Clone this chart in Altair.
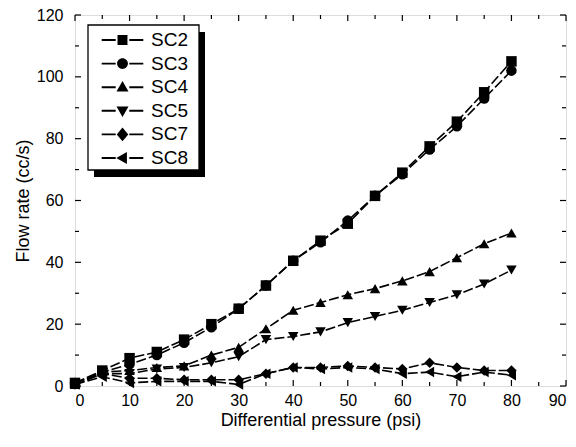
import altair as alt
import pandas as pd

pressure = [0, 5, 10, 15, 20, 25, 30, 35, 40, 45, 50, 55, 60, 65, 70, 75, 80]
sc2 = [1, 5, 9, 11, 15, 20, 25, 32.5, 40.5, 47, 52.5, 61.5, 69, 77.5, 85.5, 95, 105]
sc3 = [1, 4.5, 7, 10, 14, 19, 25, 32.5, 40.5, 46.5, 53.5, 61.5, 68.5, 76.5, 84, 93, 102]
sc4 = [0.5, 4.5, 5, 6, 6.5, 10, 12.5, 18.5, 24.5, 27, 29.5, 31.5, 34, 37, 41.5, 46, 49.5]
sc5 = [0.5, 4, 4, 5.5, 6, 7.5, 9.5, 15, 16, 17.5, 20.5, 22.5, 24.5, 27, 29.5, 33, 37.5]
sc7 = [0.5, 4, 2.5, 2.5, 2, 2, 2, 4, 6, 6, 6.5, 6, 5.5, 7.5, 6, 5, 5]
sc8 = [0.5, 3, 1, 1.5, 1.5, 1.5, 0.5, 4, 6, 5.5, 6, 5.5, 4, 4.5, 3, 4.5, 3.5]

series_names = ["SC2", "SC3", "SC4", "SC5", "SC7", "SC8"]
series_values = [sc2, sc3, sc4, sc5, sc7, sc8]
shapes = ["square", "circle", "triangle-up", "triangle-down", "diamond", "triangle-left"]
# legend glyphs "—marker—" (unit = 8 px with symbol size 256); line stubs are thin filled bars
STUBS = "M-2.6,-0.12L-0.85,-0.12L-0.85,0.12L-2.6,0.12ZM0.85,-0.12L2.6,-0.12L2.6,0.12L0.85,0.12Z"
legend_paths = [
    STUBS + "M-0.62,-0.62L0.62,-0.62L0.62,0.62L-0.62,0.62Z",
    STUBS + "M-0.68,0A0.68,0.68 0 1,0 0.68,0A0.68,0.68 0 1,0 -0.68,0Z",
    STUBS + "M0,-0.78L0.75,0.55L-0.75,0.55Z",
    STUBS + "M0,0.78L0.75,-0.55L-0.75,-0.55Z",
    STUBS + "M0,-0.85L0.72,0L0,0.85L-0.72,0Z",
    STUBS + "M-0.78,0L0.55,-0.75L0.55,0.75Z",
]
x_major = list(range(0, 91, 10))
x_minor = list(range(5, 90, 10))
y_major = list(range(0, 121, 20))
y_minor = list(range(10, 120, 20))

rows = []
for name, vals in zip(series_names, series_values):
    for p, v in zip(pressure, vals):
        rows.append({"series": name, "pressure": p, "flow": v})
df = pd.DataFrame(rows)

W, H = 491, 371
FONT = "Liberation Sans"
xs = alt.Scale(domain=[0, 90], nice=False)
ys = alt.Scale(domain=[0, 120], nice=False)

X = alt.X("pressure:Q", scale=xs, axis=alt.Axis(
    title="Differential pressure (psi)", values=x_major, ticks=False, domain=False,
    grid=False, labelPadding=6, titlePadding=3, labelFontSize=16, titleFontSize=18,
    labelColor="black", titleColor="black", titleFontWeight="normal",
    labelFont=FONT, titleFont=FONT))
Y = alt.Y("flow:Q", scale=ys, axis=alt.Axis(
    title="Flow rate (cc/s)", values=y_major, ticks=False, domain=False,
    grid=False, labelPadding=12, titlePadding=4, labelFontSize=16, titleFontSize=18,
    labelColor="black", titleColor="black", titleFontWeight="normal",
    labelFont=FONT, titleFont=FONT))

base = alt.Chart(df)
lines = base.mark_line(strokeDash=[10, 3], strokeWidth=1.6, color="black").encode(
    x=X, y=Y, detail="series:N")

point_layers = [
    base.transform_filter(alt.datum.series == name).mark_point(
        shape=shp, filled=True, size=110, opacity=1, color="black").encode(x=X, y=Y)
    for name, shp in zip(series_names, shapes)
]

legend_layer = base.transform_filter("false").mark_point(
    filled=True, color="black", opacity=1).encode(
    x=X, y=Y,
    shape=alt.Shape("series:N", scale=alt.Scale(domain=series_names, range=legend_paths),
                    legend=alt.Legend(orient="none", legendX=21, legendY=15.5, title=None,
                                      padding=0, symbolSize=256,
                                      symbolFillColor="black", symbolOpacity=1,
                                      symbolOffset=17, symbolStrokeWidth=0,
                                      labelFontSize=19, labelFont=FONT, labelColor="black",
                                      rowPadding=3.6, labelOffset=19)))

# legend frame with its drop shadow (plot-area pixel offsets)
BX0, BX1, BY0, BY1, SH = 13, 124, 10, 155, 6
box_df = pd.DataFrame({"k": [0]})
shadow = alt.Chart(box_df).mark_rect(color="black").encode(
    x=alt.value(BX0 + SH), x2=alt.value(BX1 + SH),
    y=alt.value(BY0 + SH + 1), y2=alt.value(BY1 + SH + 1))
frame = alt.Chart(box_df).mark_rect(fill="white", stroke="black", strokeWidth=1.3).encode(
    x=alt.value(BX0), x2=alt.value(BX1), y=alt.value(BY0), y2=alt.value(BY1))

def xticks(vals, L):
    b = alt.Chart(pd.DataFrame({"pressure": vals})).mark_rule(color="black", strokeWidth=1.2)
    return [b.encode(x=X, y=alt.value(H), y2=alt.value(H - L)),
            b.encode(x=X, y=alt.value(0), y2=alt.value(L))]

def yticks(vals, L):
    b = alt.Chart(pd.DataFrame({"flow": vals})).mark_rule(color="black", strokeWidth=1.2)
    return [b.encode(y=Y, x=alt.value(0), x2=alt.value(L)),
            b.encode(y=Y, x=alt.value(W), x2=alt.value(W - L))]

ticks = xticks(x_major, 6) + xticks(x_minor, 4) + yticks(y_major, 6) + yticks(y_minor, 4)

chart = alt.layer(lines, *ticks, *point_layers, shadow, frame, legend_layer).properties(
    width=W, height=H,
    autosize=alt.AutoSizeParams(type="none"),
    padding={"left": 67, "top": 7, "right": 2, "bottom": 53},
).configure_view(stroke="black", strokeWidth=1.5).configure(background="white")

chart.save("out.html", embed_options={"renderer": "svg", "actions": False})
